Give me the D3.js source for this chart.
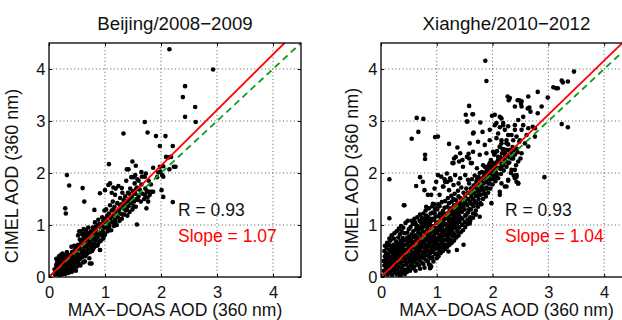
<!DOCTYPE html>
<html>
<head>
<meta charset="utf-8">
<script src="https://d3js.org/d3.v7.min.js"></script>
<style>
    body { margin: 0; background: #fff; }
    svg text { font-family: "Liberation Sans", Arial, Helvetica, sans-serif; fill: #111; }
    .grid line { stroke: #444; stroke-width: 0.9; stroke-dasharray: 1,2.6; }
    .tick line { stroke: #000; }
</style>
</head>
<body>
<div id="chart"></div>
<script>
// Values (AOD at 360 nm, MAX-DOAS on x, CIMEL on y)

var titles = ["Beijing/2008\u22122009", "Xianghe/2010\u22122012"];
var correlations = [0.93, 0.93];
var fitSlopes = [1.07, 1.04];
var tickValues = [0, 1, 2, 3, 4];
var axisDomain = [0, 4.5];

// Beijing: scattered points off the main band
var beijingOutliers = [
    [2.15,4.38],[2.93,3.99],[2.43,3.67],[2.39,3.46],[2.61,3.27],[2.43,3.08],[2.62,2.98],[1.71,2.98],
    [1.76,2.78],[1.33,2.76],[1.91,2.71],[2.08,2.71],[1.98,2.52],[2.21,2.52],[2.09,2.31],[2.13,2.30],
    [2.18,2.31],[2.23,2.12],[2.26,2.12],[2.15,2.07],[1.86,2.10],[1.98,2.12],[2.04,2.13],[1.95,2.01],
    [1.99,2.03],[2.02,1.96],[1.93,1.92],[2.04,1.93],[1.73,1.99],[1.66,1.93],[1.83,1.64],[1.77,1.64],
    [2.04,1.54],[1.76,1.53],[2.21,1.44],[1.57,1.01],[0.32,1.96],[0.36,1.76],[0.29,1.32],[0.30,1.22],
    [0.60,1.71],[0.63,1.45],[1.07,2.17],[1.49,2.22],[1.55,2.14],[1.39,2.07],[1.42,2.07],[0.73,0.26],
    [0.91,0.52],[0.81,1.29],[0.99,1.28],[0.91,1.61],[2.01,1.67],[1.71,1.93],[1.86,1.64],[1.54,1.96],
    [1.51,1.92]
];

// Beijing: main band along the 1:1 line
var beijingCore = [
    [0.12,0.10],[0.14,0.16],[0.15,0.08],[0.16,0.22],[0.17,0.13],[0.18,0.30],[0.19,0.18],[0.20,0.10],
    [0.21,0.25],[0.22,0.14],[0.22,0.36],[0.23,0.20],[0.24,0.08],[0.25,0.30],[0.26,0.16],[0.27,0.24],
    [0.28,0.40],[0.28,0.12],[0.29,0.32],[0.30,0.20],[0.31,0.27],[0.32,0.14],[0.33,0.37],[0.34,0.22],
    [0.35,0.30],[0.36,0.12],[0.37,0.42],[0.38,0.26],[0.39,0.18],[0.40,0.35],[0.41,0.48],[0.42,0.22],
    [0.43,0.30],[0.44,0.40],[0.45,0.14],[0.46,0.52],[0.47,0.28],[0.48,0.36],[0.49,0.46],[0.50,0.20],
    [0.15,0.30],[0.13,0.22],[0.18,0.40],[0.20,0.35],[0.24,0.45],[0.26,0.06],[0.30,0.08],[0.34,0.10],
    [0.20,0.04],[0.16,0.05],[0.32,0.48],[0.27,0.34],[0.23,0.28],[0.38,0.10],[0.42,0.16],[0.44,0.22],
    [0.48,0.12],[0.10,0.15],[0.11,0.05],[0.13,0.35],[0.25,0.20],[0.29,0.25],[0.35,0.19],[0.31,0.37],
    [0.39,0.31],[0.36,0.40],[0.52,0.30],
    [0.52,0.62],[0.53,0.42],[0.54,0.88],[0.55,0.55],[0.56,0.35],[0.57,0.70],[0.58,0.48],[0.59,0.82],
    [0.60,0.60],[0.61,0.28],[0.62,0.75],[0.63,0.50],[0.64,0.66],[0.65,0.40],[0.66,0.90],[0.67,0.58],
    [0.68,0.72],[0.69,0.46],[0.70,0.80],[0.71,0.62],[0.72,0.36],[0.73,0.68],[0.74,0.55],[0.75,0.88],
    [0.76,0.72],[0.77,0.50],[0.78,0.95],[0.79,0.64],[0.80,0.80],[0.81,0.58],[0.82,1.05],[0.83,0.70],
    [0.84,0.88],[0.85,0.62],[0.86,0.98],[0.87,0.76],[0.88,1.10],[0.89,0.84],[0.90,0.68],[0.91,0.52],
    [0.92,0.95],[0.93,1.02],[0.94,0.80],[0.95,1.15],[0.96,0.88],[0.97,0.74],[0.98,1.05],[0.99,0.95],
    [1.00,1.12],[1.00,0.82],[0.56,0.22],[0.60,0.45],[0.64,0.30],[0.58,0.66],[0.62,0.58],[0.68,0.62],
    [0.70,0.52],[0.74,0.78],[0.66,0.76],[0.72,0.84],[0.78,0.76],[0.80,0.92],[0.84,0.74],[0.86,0.60],
    [0.76,0.26],[0.90,1.02],[0.70,0.95],[0.64,0.84],
    [1.02,1.30],[1.03,0.95],[1.04,1.18],[1.05,0.88],[1.06,1.05],[1.07,1.22],[1.08,0.98],[1.09,1.38],
    [1.10,1.12],[1.11,0.90],[1.12,1.28],[1.13,1.05],[1.14,1.45],[1.15,1.18],[1.16,0.98],[1.17,1.35],
    [1.18,1.10],[1.19,1.70],[1.20,1.25],[1.21,1.00],[1.22,1.42],[1.23,1.15],[1.24,1.75],[1.25,1.30],
    [1.26,1.08],[1.27,1.52],[1.28,1.22],[1.29,1.40],[1.30,1.12],[1.31,1.62],[1.32,1.32],[1.33,1.48],
    [1.34,1.20],[1.35,1.38],[1.36,1.55],[1.37,1.28],[1.38,1.85],[1.39,1.45],[1.40,1.18],[1.41,1.62],
    [1.42,1.36],[1.43,1.50],[1.44,1.25],[1.45,1.70],[1.46,1.42],[1.47,1.92],[1.48,1.55],[1.49,1.30],
    [1.50,1.65],[1.52,1.45],[1.53,1.80],[1.54,1.60],[1.55,1.35],[1.56,1.50],[1.57,1.72],[1.58,1.88],
    [1.60,1.55],[1.62,1.68],[1.64,1.45],[1.65,1.78],[1.67,1.60],[1.70,1.50],[1.72,1.70],[1.75,1.65],
    [1.78,1.85],[1.80,1.58],[1.82,1.78],[1.09,1.80],[1.15,1.72],[1.00,1.67],[1.30,1.71],[1.06,1.77],
    [1.12,1.62],[1.18,1.58],[1.71,1.58],[1.77,1.45],[1.74,1.32],[1.80,1.64],[1.60,1.85],[1.65,2.02]
];

// Beijing: extra points that fill the dark part of the band
var beijingFill = [
    [0.14,0.26],[0.17,0.34],[0.19,0.08],[0.21,0.42],[0.23,0.06],[0.25,0.38],[0.27,0.18],[0.29,0.06],
    [0.31,0.44],[0.33,0.26],[0.35,0.08],[0.37,0.34],[0.39,0.24],[0.41,0.10],[0.43,0.40],[0.45,0.30],
    [0.47,0.20],[0.49,0.58],[0.51,0.40],[0.53,0.26],[0.55,0.72],[0.57,0.60],[0.59,0.38],[0.61,0.50],
    [0.63,0.80],[0.65,0.62],[0.67,0.44],[0.69,0.84],[0.71,0.70],[0.73,0.48],[0.75,0.60],[0.77,0.84],
    [0.79,0.54],[0.81,0.72],[0.83,0.96],[0.85,0.80],[0.87,0.62],[0.89,1.00],[0.91,0.84],[0.93,0.70],
    [0.95,0.96],[0.97,1.08],[0.99,0.80],[1.03,1.06],[1.07,0.92],[1.11,1.16],[1.15,1.30],[1.19,1.04],
    [1.23,1.24],[1.27,1.38],[1.31,1.20],[1.35,1.46],[1.39,1.30],[1.43,1.60],[1.47,1.48],[1.51,1.36],
    [1.55,1.68],[1.59,1.48],[0.45,0.60],[0.40,0.58],[0.52,0.80],[0.57,0.88],[0.62,0.92],[0.60,0.68],
    [0.50,0.52]
];

// Xianghe: solid band, low AOD
var xiangheDense = [
    [0.04,0.03],[0.05,0.12],[0.06,0.22],[0.05,0.31],[0.07,0.40],[0.06,0.50],[0.08,0.08],[0.09,0.18],
    [0.08,0.28],[0.10,0.36],[0.09,0.46],[0.10,0.56],
    [0.12,0.05],[0.13,0.14],[0.12,0.24],[0.14,0.32],[0.13,0.42],[0.15,0.52],[0.14,0.62],[0.16,0.10],
    [0.17,0.20],[0.16,0.30],[0.18,0.38],[0.17,0.48],[0.18,0.58],[0.17,0.70],
    [0.20,0.04],[0.21,0.14],[0.20,0.24],[0.22,0.33],[0.21,0.43],[0.23,0.52],[0.22,0.62],[0.23,0.74],
    [0.25,0.09],[0.24,0.19],[0.26,0.28],[0.25,0.38],[0.26,0.48],[0.25,0.58],[0.27,0.68],
    [0.28,0.06],[0.29,0.15],[0.28,0.24],[0.30,0.34],[0.29,0.44],[0.31,0.53],[0.30,0.63],[0.31,0.76],
    [0.33,0.10],[0.32,0.20],[0.34,0.29],[0.33,0.39],[0.34,0.49],[0.33,0.59],[0.35,0.69],[0.34,0.82],
    [0.36,0.08],[0.37,0.17],[0.36,0.27],[0.38,0.36],[0.37,0.46],[0.39,0.55],[0.38,0.65],[0.39,0.75],
    [0.37,0.88],[0.41,0.12],[0.40,0.22],[0.42,0.31],[0.41,0.41],[0.42,0.51],[0.41,0.61],[0.43,0.71],
    [0.42,0.84],
    [0.44,0.14],[0.45,0.24],[0.44,0.34],[0.46,0.43],[0.45,0.53],[0.47,0.63],[0.46,0.73],[0.47,0.85],
    [0.49,0.18],[0.48,0.28],[0.50,0.38],[0.49,0.48],[0.50,0.58],[0.49,0.68],[0.51,0.78],[0.50,0.92],
    [0.52,0.12],[0.53,0.22],[0.52,0.32],[0.54,0.42],[0.53,0.52],[0.55,0.62],[0.54,0.72],[0.55,0.82],
    [0.53,0.96],[0.57,0.17],[0.56,0.27],[0.58,0.37],[0.57,0.47],[0.58,0.57],[0.57,0.67],[0.59,0.77],
    [0.58,0.88],[0.57,1.02],
    [0.60,0.20],[0.61,0.30],[0.60,0.40],[0.62,0.50],[0.61,0.60],[0.63,0.70],[0.62,0.80],[0.63,0.92],
    [0.61,1.05],[0.65,0.25],[0.64,0.35],[0.66,0.45],[0.65,0.55],[0.66,0.65],[0.65,0.75],[0.67,0.86],
    [0.66,0.98],
    [0.68,0.22],[0.69,0.32],[0.68,0.42],[0.70,0.52],[0.69,0.62],[0.71,0.72],[0.70,0.82],[0.71,0.94],
    [0.69,1.08],[0.73,0.28],[0.72,0.38],[0.74,0.48],[0.73,0.58],[0.74,0.68],[0.73,0.78],[0.75,0.88],
    [0.74,1.00],[0.73,1.14],
    [0.76,0.25],[0.77,0.36],[0.76,0.46],[0.78,0.56],[0.77,0.66],[0.79,0.76],[0.78,0.86],[0.79,0.98],
    [0.77,1.12],[0.81,0.32],[0.80,0.42],[0.82,0.52],[0.81,0.62],[0.82,0.72],[0.81,0.82],[0.83,0.92],
    [0.82,1.04],[0.81,1.18],
    [0.84,0.30],[0.85,0.40],[0.84,0.50],[0.86,0.60],[0.85,0.70],[0.87,0.80],[0.86,0.90],[0.87,1.02],
    [0.85,1.15],[0.89,0.36],[0.88,0.46],[0.90,0.56],[0.89,0.66],[0.90,0.76],[0.89,0.86],[0.91,0.96],
    [0.90,1.08],[0.89,1.22],
    [0.92,0.38],[0.93,0.48],[0.92,0.58],[0.94,0.68],[0.93,0.78],[0.95,0.88],[0.94,0.98],[0.95,1.10],
    [0.93,1.24],[0.97,0.44],[0.96,0.54],[0.98,0.64],[0.97,0.74],[0.98,0.84],[0.97,0.94],[0.99,1.04],
    [0.98,1.16],[0.97,1.30],
    [1.00,0.45],[1.01,0.55],[1.00,0.65],[1.02,0.75],[1.01,0.85],[1.03,0.95],[1.02,1.05],[1.03,1.17],
    [1.01,1.30],[1.05,0.50],[1.04,0.60],[1.06,0.70],[1.05,0.80],[1.06,0.90],[1.05,1.00],[1.07,1.10],
    [1.06,1.22],[1.05,1.36],
    [1.08,0.55],[1.09,0.65],[1.08,0.75],[1.10,0.85],[1.09,0.95],[1.11,1.05],[1.10,1.15],[1.11,1.27],
    [1.12,0.60],[1.13,0.70],[1.14,0.80],[1.13,0.90],[1.14,1.00],[1.13,1.10],[1.15,1.20],[1.14,1.33],
    [1.16,0.62],[1.17,0.72],[1.16,0.82],[1.18,0.92],[1.17,1.02],[1.19,1.12],[1.18,1.22],[1.19,1.35],
    [1.21,0.68],[1.20,0.78],[1.22,0.88],[1.21,0.98],[1.22,1.08],[1.21,1.18],[1.23,1.28],[1.22,1.42],
    [1.24,0.72],[1.25,0.82],[1.24,0.92],[1.26,1.02],[1.25,1.12],[1.27,1.22],[1.26,1.32],[1.27,1.45],
    [1.29,0.78],[1.28,0.88],[1.30,0.98],[1.29,1.08],[1.30,1.18],[1.29,1.28],[1.31,1.38],[1.30,1.50],
    [1.32,0.82],[1.33,0.94],[1.32,1.05],[1.34,1.15],[1.33,1.25],[1.35,1.36],[1.34,1.48],[1.37,0.88],
    [1.36,1.00],[1.38,1.10],[1.37,1.20],[1.38,1.30],[1.37,1.42],[1.39,1.55],[1.40,0.95],[1.41,1.06],
    [1.40,1.18],[1.42,1.28],[1.41,1.40],[1.42,1.52]
];

// Xianghe: extra points filling gaps and the edges of the band
var xiangheFill = [
    [0.07,0.60],[0.11,0.66],[0.15,0.74],[0.19,0.80],[0.24,0.84],[0.28,0.88],[0.32,0.93],[0.36,0.98],
    [0.40,0.95],[0.44,1.04],[0.48,1.08],[0.11,0.28],[0.15,0.20],[0.19,0.26],[0.27,0.36],[0.31,0.30],
    [0.35,0.42],[0.39,0.40],[0.43,0.46],[0.47,0.52],[0.23,0.44],[0.19,0.52],[0.27,0.56],[0.31,0.64],
    [0.35,0.58],[0.39,0.70],[0.43,0.62],[0.47,0.76],[0.51,0.70],[0.23,0.12],[0.31,0.05],[0.35,0.03],
    [0.39,0.08],[0.43,0.06],[0.47,0.10],
    [0.55,0.32],[0.59,0.44],[0.63,0.56],[0.55,0.68],[0.59,0.62],[0.63,0.36],[0.67,0.50],[0.71,0.40],
    [0.67,0.70],[0.71,0.58],[0.75,0.64],[0.75,0.42],[0.79,0.50],[0.79,0.70],[0.83,0.58],[0.83,0.78],
    [0.87,0.66],[0.87,0.46],[0.91,0.72],[0.91,0.52],[0.95,0.60],[0.95,0.80],[0.99,0.70],[0.99,0.90],
    [0.55,1.08],[0.60,1.12],[0.65,1.15],[0.70,1.20],[0.76,1.22],[0.80,1.28],[0.86,1.32],[0.92,1.36],
    [0.96,1.40],[0.62,0.12],[0.70,0.16],[0.78,0.18],[0.86,0.24],[0.94,0.30],[1.00,0.36],[0.63,1.00],
    [0.68,0.92],[0.72,1.05],[0.78,1.06],[0.84,1.10],[0.88,1.00],[0.92,1.12],[0.96,1.22],[0.75,0.96],
    [0.83,0.98],
    [1.03,0.40],[1.07,0.46],[1.11,0.50],[1.15,0.54],[1.19,0.58],[1.23,0.62],[1.27,0.66],[1.31,0.70],
    [1.35,0.76],[1.39,0.80],[1.43,0.86],[1.47,0.90],[1.03,0.62],[1.07,0.80],[1.11,0.72],[1.15,0.90],
    [1.19,0.82],[1.23,1.00],[1.27,0.94],[1.31,1.12],[1.35,1.04],[1.39,1.24],[1.43,1.14],[1.47,1.30],
    [1.03,1.40],[1.09,1.44],[1.15,1.46],[1.20,1.52],[1.26,1.56],[1.32,1.60],[1.38,1.66],[1.44,1.72],
    [1.07,1.02],[1.11,1.20],[1.17,1.14],[1.23,1.20],[1.29,1.24],[1.35,1.28],[1.41,1.34],[1.45,1.42],
    [1.51,0.96],[1.55,1.02],[1.60,1.08],[1.65,1.14],[1.70,1.20],
    [1.53,1.20],[1.58,1.30],[1.63,1.40],[1.68,1.46],[1.73,1.56],[1.77,1.66],[1.82,1.72],[1.87,1.82],
    [1.91,1.90],[1.95,2.00],[2.00,2.05],[2.04,2.14],[2.09,2.22],[2.14,2.30],[2.18,2.46],[2.23,2.36],
    [2.27,2.44],[1.54,1.50],[1.59,1.62],[1.64,1.70],[1.69,1.78],[1.73,1.90],[1.77,2.00],[1.82,1.90],
    [1.87,2.00],[1.91,2.08],[1.96,2.12],[2.00,2.20],[1.80,1.40],[1.85,1.60],[1.90,1.70],[1.95,1.80],
    [2.02,1.88],[2.08,1.98],[2.14,2.08],[2.19,2.16],[2.24,2.22],[2.30,2.30],[2.34,2.38],[2.38,2.44]
];

// Xianghe: band thinning out at higher AOD
var xiangheMid = [
    [1.45,1.00],[1.46,1.12],[1.45,1.25],[1.47,1.36],[1.46,1.48],[1.48,1.62],[1.50,1.05],[1.51,1.18],
    [1.50,1.30],[1.52,1.42],[1.51,1.55],[1.53,1.70],[1.55,1.10],[1.56,1.24],[1.55,1.38],[1.57,1.50],
    [1.56,1.62],[1.58,1.80],[1.60,1.15],[1.61,1.30],[1.60,1.44],[1.62,1.56],[1.61,1.70],[1.63,1.88],
    [1.65,1.22],[1.66,1.36],[1.65,1.50],[1.67,1.62],[1.66,1.76],[1.68,1.95],[1.70,1.28],[1.71,1.42],
    [1.70,1.56],[1.72,1.70],[1.71,1.84],[1.74,1.35],[1.75,1.50],[1.74,1.64],[1.76,1.78],[1.75,1.92],
    [1.78,1.42],[1.79,1.58],[1.80,1.72],[1.79,1.86],[1.81,2.02],[1.83,1.50],[1.84,1.66],[1.83,1.80],
    [1.85,1.95],[1.86,2.12],[1.88,1.55],[1.89,1.72],[1.90,1.88],[1.89,2.04],[1.92,1.62],[1.93,1.80],
    [1.94,1.96],[1.93,2.15],[1.96,1.70],[1.97,1.88],[1.98,2.05],[1.97,2.25],[2.00,1.78],[2.01,1.95],
    [2.02,2.12],[2.03,2.35],[2.05,1.84],[2.06,2.02],[2.07,2.20],[2.08,2.42],[2.10,1.90],[2.11,2.10],
    [2.12,2.28],[2.13,2.50],[2.15,1.98],[2.16,2.18],[2.17,2.38],[2.20,2.05],[2.21,2.26],[2.22,2.45],
    [2.25,2.12],[2.26,2.34],[2.28,2.55],[2.30,2.20],[2.32,2.42],[2.35,2.28],[2.36,2.50],[2.40,2.35],
    [2.42,2.15],[2.45,2.40],[2.48,2.60],[2.50,2.28],[2.46,1.80],[2.38,1.95],[2.33,2.00],[2.28,1.85],
    [0.88,0.17],[1.36,0.52],[1.48,0.62],[1.21,0.49],[0.88,0.23],[1.59,1.03],[1.77,1.16],[1.98,1.42],
    [2.13,1.58],[2.25,1.74],[2.43,1.83]
];

// Xianghe: sparse points above the band
var xiangheSparse = [
    [0.70,1.92],[0.75,1.83],[0.63,1.75],[0.78,1.67],[0.84,1.58],[1.02,1.96],[1.08,1.93],[1.14,1.88],
    [0.99,1.83],[1.19,1.83],[1.25,1.86],[1.11,1.74],[1.22,1.67],[0.96,1.70],[0.42,1.38],[0.81,1.35],
    [0.93,1.41],[0.99,1.32],[0.90,1.58],[1.05,1.58],[1.31,2.28],[1.34,2.31],[1.28,2.19],[1.40,2.22],
    [1.46,2.25],[1.57,2.37],[1.58,2.28],[1.61,2.19],[1.55,2.99],[1.64,3.13],
    [1.65,2.76],[1.82,2.79],[1.95,2.83],[2.04,2.92],[2.13,2.88],[2.19,2.96],[2.28,2.90],[2.40,2.92],
    [1.74,2.60],[1.86,2.54],[1.95,2.63],[2.07,2.67],[2.16,2.57],[2.25,2.63],[2.34,2.73],[2.43,2.70],
    [2.52,2.83],[2.61,2.73],[2.76,2.86],[1.42,2.38],[1.54,2.31],[1.65,2.41],[1.77,2.35],[1.89,2.38],
    [2.01,2.41],[2.10,2.31],[2.22,2.38],[1.30,2.19],[1.47,2.12],[1.63,2.19],[1.72,2.09],[1.83,2.15],
    [1.95,2.19],[2.04,2.09],[2.16,2.12],[2.28,2.19],[2.34,2.06],[2.40,1.90],[2.43,1.96],[1.18,1.99],
    [1.24,1.90],[1.33,1.96],[1.42,1.90],[1.15,1.83],[1.12,1.74],[1.30,1.77],[1.39,1.80],[1.51,1.96],
    [1.56,1.87],[2.04,3.12],[2.16,3.05],[2.07,2.96],[2.19,2.92],[2.22,2.83],[2.10,2.76],[2.28,2.73],
    [2.40,2.83],[2.46,3.02],[2.55,3.08],[2.55,2.92],[2.64,2.86],[2.72,2.89],[2.76,2.70],[2.37,2.63],
    [2.49,2.63],[2.58,2.57],[2.16,2.63],[2.25,2.57],[2.13,2.51],[2.31,2.44],[2.43,2.47],[2.52,2.38],
    [2.64,2.51],[2.22,2.31],[2.37,2.28],[2.46,2.22],[2.19,2.15],[2.10,2.25],[2.04,2.38],[2.40,2.06],
    [2.43,1.93],[2.28,1.87],[2.16,1.80],[2.22,1.74],[2.13,1.64],[2.07,1.93],[2.46,1.80]
];

// Xianghe: isolated points
var xiangheOutliers = [
    [1.87,4.16],[1.89,3.77],[0.15,1.88],[0.15,1.13],[0.64,3.06],[0.76,3.04],[0.67,2.79],[0.55,2.66],
    [0.97,2.69],[1.02,2.70],[0.79,2.35],[0.79,2.27],[1.22,2.56],[1.58,3.29],[1.65,3.13],[1.52,3.12],
    [1.54,2.99],[1.78,2.97],[1.99,3.10],[2.13,3.08],[2.27,3.47],[2.48,3.40],[2.51,3.33],[2.63,3.24],
    [2.81,3.56],[2.99,3.45],[3.09,3.65],[3.17,3.63],[3.24,3.78],[3.35,3.76],[3.46,3.95],[3.24,2.94],
    [3.35,2.88],[2.93,1.92],[0.90,0.20],[0.41,1.38],[3.26,3.74],[3.14,3.63],[2.31,3.44],[2.29,3.40],
    [2.45,3.40],[2.52,3.38],[2.64,3.47],[2.40,3.28],[2.52,3.28],[2.66,3.26],[2.68,3.18],[2.81,3.15],
    [2.88,3.28],[1.66,2.78],[1.37,2.49],[1.59,2.57]
];

var W = 622, H = 320;

var svg = d3.select("#chart")
    .append("svg")
    .attr("width", W)
    .attr("height", H);

var panels = [
    {
        title: titles[0], r: correlations[0], slope: fitSlopes[0],
        points: beijingCore.concat(beijingFill, beijingOutliers),
        left: 49, right: 301, top: 43, bottom: 277,
        ylabelX: 18, ylabelY: 176, statsX: 178
    },
    {
        title: titles[1], r: correlations[1], slope: fitSlopes[1],
        points: xiangheDense.concat(xiangheFill, xiangheMid, xiangheSparse, xiangheOutliers),
        left: 381, right: 632, top: 43, bottom: 277,
        ylabelX: 357.5, ylabelY: 175, statsX: 505
    }
];

function drawPanel(p, idx) {
    var x = d3.scaleLinear().domain(axisDomain).range([p.left, p.right]);
    var y = d3.scaleLinear().domain(axisDomain).range([p.bottom, p.top]);
    var g = svg.append("g");

    var clipId = "clip" + idx;
    g.append("clipPath").attr("id", clipId)
        .append("rect")
        .attr("x", p.left).attr("y", p.top)
        .attr("width", p.right - p.left).attr("height", p.bottom - p.top);

    // dotted grid
    var grid = g.append("g").attr("class", "grid");
    grid.selectAll(".gx").data(tickValues.slice(1)).enter().append("line")
        .attr("x1", function (d) { return x(d); }).attr("x2", function (d) { return x(d); })
        .attr("y1", p.top).attr("y2", p.bottom);
    grid.selectAll(".gy").data(tickValues.slice(1)).enter().append("line")
        .attr("y1", function (d) { return y(d); }).attr("y2", function (d) { return y(d); })
        .attr("x1", p.left).attr("x2", p.right);

    // scatter
    g.append("g").attr("clip-path", "url(#" + clipId + ")")
        .selectAll("circle")
        .data(p.points)
        .enter().append("circle")
        .attr("cx", function (d) { return x(d[0]); })
        .attr("cy", function (d) { return y(d[1]); })
        .attr("r", 2.3)
        .attr("fill", "#000");

    var lines = g.append("g").attr("clip-path", "url(#" + clipId + ")");
    // 1:1 line
    lines.append("line")
        .attr("x1", x(0)).attr("y1", y(0))
        .attr("x2", x(axisDomain[1])).attr("y2", y(axisDomain[1]))
        .attr("stroke", "#119a11").attr("stroke-width", 1.8)
        .attr("stroke-dasharray", "6.5,4.5");
    // regression line
    var xEnd = axisDomain[1] / p.slope;
    lines.append("line")
        .attr("x1", x(0)).attr("y1", y(0))
        .attr("x2", x(xEnd)).attr("y2", y(xEnd * p.slope))
        .attr("stroke", "#ff0000").attr("stroke-width", 1.8);

    // axes, ticks pointing inwards like MATLAB
    g.append("g").attr("transform", "translate(0," + p.bottom + ")")
        .call(d3.axisBottom(x).tickValues(tickValues).tickSize(-3).tickPadding(9).tickFormat(d3.format("d")));
    g.append("g").attr("transform", "translate(" + p.left + ",0)")
        .call(d3.axisLeft(y).tickValues(tickValues).tickSize(-3).tickPadding(3.5).tickFormat(d3.format("d")));
    g.append("g").attr("transform", "translate(0," + p.top + ")")
        .call(d3.axisTop(x).tickValues(tickValues).tickSize(-3).tickFormat(""));
    g.append("g").attr("transform", "translate(" + p.right + ",0)")
        .call(d3.axisRight(y).tickValues(tickValues).tickSize(-3).tickFormat(""));
    g.selectAll(".domain").remove();
    g.selectAll(".tick text").style("font-size", "16.5px").style("fill", "#111");

    g.append("rect")
        .attr("x", p.left).attr("y", p.top)
        .attr("width", p.right - p.left).attr("height", p.bottom - p.top)
        .attr("fill", "none").attr("stroke", "#000").attr("stroke-width", 1.3);

    var cx = (p.left + p.right) / 2;
    g.append("text").attr("x", cx).attr("y", 29.5)
        .attr("text-anchor", "middle").style("font-size", "18.7px")
        .text(p.title);
    g.append("text").attr("x", cx).attr("y", 316)
        .attr("text-anchor", "middle").style("font-size", "17.5px")
        .text("MAX\u2212DOAS AOD (360 nm)");
    g.append("text")
        .attr("transform", "translate(" + p.ylabelX + "," + p.ylabelY + ") rotate(-90)")
        .attr("text-anchor", "middle").style("font-size", "18px")
        .text("CIMEL AOD (360 nm)");

    g.append("text").attr("x", p.statsX).attr("y", 215.5)
        .style("font-size", "17.5px")
        .text("R = " + p.r.toFixed(2));
    g.append("text").attr("x", p.statsX).attr("y", 242)
        .style("font-size", "17.5px").style("fill", "#ff0000")
        .text("Slope = " + p.slope.toFixed(2));
}

panels.forEach(drawPanel);
</script>
</body>
</html>
